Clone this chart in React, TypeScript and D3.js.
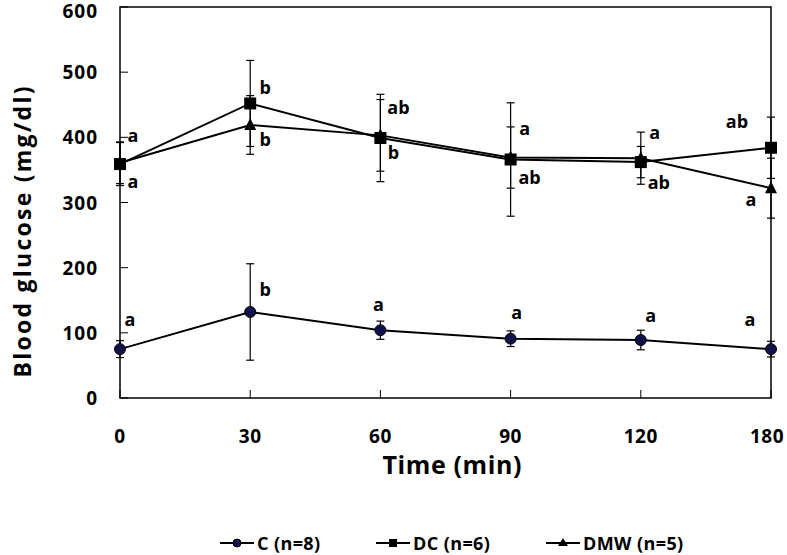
import React from "react";
import * as d3 from "d3";

const times = ["0", "30", "60", "90", "120", "180"];
const yTicks = [0, 100, 200, 300, 400, 500, 600];

const cMean = [75, 132, 104, 91, 89, 75];
const cErr = [13, 74, 14, 12, 15, 12];
const dcMean = [359, 452, 399, 366, 362, 384];
const dcErr = [33, 66, 67, 87, 24, 47];
const dmwMean = [361, 419, 403, 369, 368, 322];
const dmwErr = [32, 45, 55, 47, 40, 46];

const seriesNames = ["C (n=8)", "DC (n=6)", "DMW (n=5)"];

// letter annotations: time category, value level, text, horizontal offset
const letterTime = ["0", "0", "30", "30", "60", "60", "90", "90", "120", "120", "180", "180",
  "0", "30", "60", "90", "120", "180"];
const letterValue = [403, 333, 477, 397, 446, 377, 414, 339, 408, 331, 425, 305,
  121, 167, 144, 132, 127, 121];
const letterText = ["a", "a", "b", "b", "ab", "b", "a", "ab", "a", "ab", "ab", "a",
  "a", "b", "a", "a", "a", "a"];
const letterDx = [13, 13, 15, 15, 18, 13, 14, 19, 14, 18, -34, -20,
  10, 15, -2, 6, 10, -21];

const W = 787, H = 555;
const M = { left: 120, right: 771, top: 7, bottom: 398 };
const FONT = "'Open Sans', 'Noto Sans', sans-serif";

export default function App() {
  const x = d3.scalePoint<string>().domain(times).range([M.left, M.right]);
  const y = d3.scaleLinear().domain([0, 600]).range([M.bottom, M.top]);
  const line = d3.line<number>().x((_, i) => x(times[i])!).y((d) => y(d));

  const series = [
    { mean: cMean, err: cErr, shape: "circle" },
    { mean: dcMean, err: dcErr, shape: "square" },
    { mean: dmwMean, err: dmwErr, shape: "triangle" },
  ];

  const marker = (shape: string, cx: number, cy: number, key: string) => {
    if (shape === "circle")
      return <circle key={key} cx={cx} cy={cy} r={5.5} fill="#12124a" stroke="#000" strokeWidth={1} />;
    if (shape === "square")
      return <rect key={key} x={cx - 6} y={cy - 6} width={12} height={12} fill="#000" />;
    const s = 12;
    return (
      <path key={key} d={`M${cx},${cy - s / 2 - 1}L${cx + s / 2},${cy + s / 2 - 1}L${cx - s / 2},${cy + s / 2 - 1}Z`} fill="#000" />
    );
  };

  const legendX = [220, 376, 546];
  const legendY = 543;

  return (
    <svg width={W} height={H} style={{ position: "absolute", left: 0, top: 0, background: "#fff" }}>
      {/* frame */}
      <rect x={M.left} y={M.top} width={M.right - M.left} height={M.bottom - M.top} fill="none" stroke="#000" strokeWidth={1.5} />
      {/* y ticks */}
      {yTicks.map((t) => (
        <g key={t}>
          <line x1={M.left} x2={M.left + 8} y1={y(t)} y2={y(t)} stroke="#000" strokeWidth={1} />
          <text x={98} y={Math.max(y(t), 11)} textAnchor="end" dominantBaseline="central" fontFamily={FONT} fontWeight="bold" fontSize={19} letterSpacing={1} fill="#000">{t}</text>
        </g>
      ))}
      {/* x ticks */}
      {times.map((t) => (
        <g key={t}>
          <line x1={x(t)!} x2={x(t)!} y1={M.bottom} y2={M.bottom - 8} stroke="#000" strokeWidth={1} />
          <text x={Math.min(x(t)!, 767)} y={436} textAnchor="middle" dominantBaseline="central" fontFamily={FONT} fontWeight="bold" fontSize={19} letterSpacing={0.5} fill="#000">{t}</text>
        </g>
      ))}
      <text x={452} y={464} textAnchor="middle" dominantBaseline="central" fontFamily={FONT} fontWeight="bold" fontSize={25} textLength={139} lengthAdjust="spacing" fill="#000">Time  (min)</text>
      <text transform={`translate(22, 232) rotate(-90)`} textAnchor="middle" dominantBaseline="central" fontFamily={FONT} fontWeight="bold" fontSize={23} textLength={291} lengthAdjust="spacing" fill="#000">Blood glucose  (mg/dl)</text>

      {/* error bars */}
      {series.map((s, si) =>
        s.mean.map((m, i) => {
          const cx = x(times[i])!;
          return (
            <g key={`e${si}-${i}`} stroke="#000" strokeWidth={1.2}>
              <line x1={cx} x2={cx} y1={y(m - s.err[i])} y2={y(m + s.err[i])} />
              <line x1={cx - 4} x2={cx + 4} y1={y(m - s.err[i])} y2={y(m - s.err[i])} />
              <line x1={cx - 4} x2={cx + 4} y1={y(m + s.err[i])} y2={y(m + s.err[i])} />
            </g>
          );
        })
      )}
      {/* lines */}
      {series.map((s, si) => (
        <path key={`l${si}`} d={line(s.mean)!} fill="none" stroke="#000" strokeWidth={2} />
      ))}
      {/* markers */}
      {series.map((s, si) => s.mean.map((m, i) => marker(s.shape, x(times[i])!, y(m), `m${si}-${i}`)))}

      {/* letters */}
      {letterText.map((t, i) => (
        <text key={`t${i}`} x={x(letterTime[i])! + letterDx[i]} y={y(letterValue[i])} textAnchor="middle" dominantBaseline="central" fontFamily={FONT} fontWeight="bold" fontSize={18} fill="#000">{t}</text>
      ))}

      {/* legend */}
      {seriesNames.map((n, i) => (
        <g key={n}>
          <line x1={legendX[i]} x2={legendX[i] + 34} y1={legendY} y2={legendY} stroke="#000" strokeWidth={2} />
          {i === 0 ? (
            <circle cx={legendX[i] + 17} cy={legendY} r={4} fill="#12124a" stroke="#000" strokeWidth={1} />
          ) : i === 1 ? (
            <rect x={legendX[i] + 13} y={legendY - 4} width={8} height={8} fill="#000" />
          ) : (
            <path d={`M${legendX[i] + 17},${legendY - 5}L${legendX[i] + 22},${legendY + 3}L${legendX[i] + 12},${legendY + 3}Z`} fill="#000" />
          )}
          <text x={legendX[i] + 37} y={legendY} dominantBaseline="central" fontFamily={FONT} fontWeight="bold" fontSize={18} letterSpacing={0.4} fill="#000">{n}</text>
        </g>
      ))}
    </svg>
  );
}
